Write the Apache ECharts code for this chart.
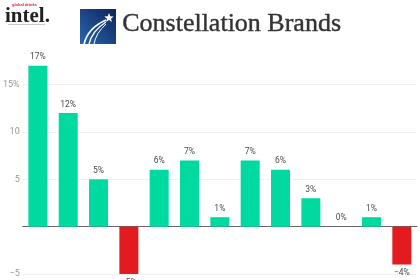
<!DOCTYPE html>
<html>
<head>
<meta charset="utf-8">
<script src="https://cdn.jsdelivr.net/npm/echarts@6/dist/echarts.min.js"></script>
<style>html,body{margin:0;padding:0;background:#fff}#c{width:420px;height:280px}</style>
</head>
<body>
<div id="c"></div>
<script>
const categories = ['1','2','3','4','5','6','7','8','9','10','11','12','13'];
const values = [17, 12, 5, -5, 6, 7, 1, 7, 6, 3, 0, 1, -4];
const yTicks = [-5, 5, 10, 15];

const GREEN = '#00d9a0', RED = '#e31b1f';
const chart = echarts.init(document.getElementById('c'), null, {renderer: 'canvas'});

function starPoints(cx, cy, R, r) {
  const pts = [];
  for (let i = 0; i < 10; i++) {
    const a = -Math.PI / 2 + i * Math.PI / 5;
    const rad = i % 2 === 0 ? R : r;
    pts.push([cx + rad * Math.cos(a), cy + rad * Math.sin(a)]);
  }
  return pts;
}

chart.setOption({
  animation: false,
  grid: {left: 22, right: 3, top: 37.3, bottom: 6, containLabel: false},
  xAxis: {
    type: 'category',
    data: categories,
    axisLine: {show: true, onZero: true, lineStyle: {color: '#666', width: 1}},
    axisTick: {show: false},
    axisLabel: {show: false},
    splitLine: {show: false}
  },
  yAxis: {
    type: 'value',
    min: -5, max: 20, interval: 5,
    axisLine: {show: false},
    axisTick: {show: false},
    axisLabel: {
      showMaxLabel: false,
      color: '#999', fontSize: 9, fontFamily: 'Roboto', margin: 3,
      formatter: v => yTicks.indexOf(v) < 0 ? '' : (v === 15 ? '15%' : String(v).replace('-', '\u2212'))
    },
    splitLine: {show: true, showMaxLine: false, lineStyle: {color: '#e2e2e2', type: 'dotted', width: 1}}
  },
  series: [{
    type: 'bar',
    data: values.map(v => ({value: v, itemStyle: {color: v < 0 ? RED : GREEN}, label: {position: v < 0 ? 'bottom' : 'top'}})),
    barWidth: 19,
    label: {
      show: true, color: '#4a4a4a', fontSize: 8.5, fontFamily: 'Roboto', distance: 4,
      formatter: p => String(p.value).replace('-', '\u2212') + '%'
    }
  }],
  graphic: [
    {type: 'text', left: 12, top: 3, style: {text: 'global drinks', fill: '#d2232a', font: 'bold 4px "Liberation Sans"'}},
    {type: 'text', left: 5, top: 6, style: {text: 'intel.', fill: '#222', font: 'bold 21px "Liberation Serif"'}},
    {type: 'rect', shape: {x: 8, y: 24, width: 37, height: 1}, style: {fill: '#c8c8c8'}},
    {type: 'rect', shape: {x: 80, y: 9, width: 36, height: 35},
      style: {fill: new echarts.graphic.LinearGradient(0, 1, 1, 0, [{offset: 0, color: '#2a66b0'}, {offset: 1, color: '#0c2457'}])}},
    {type: 'bezierCurve', shape: {x1: 84, y1: 44, x2: 106, y2: 20, cpx1: 88, cpy1: 28}, style: {stroke: '#fff', lineWidth: 1.6, fill: null}},
    {type: 'bezierCurve', shape: {x1: 89, y1: 44, x2: 106, y2: 22, cpx1: 92, cpy1: 31}, style: {stroke: '#fff', lineWidth: 1.3, fill: null}},
    {type: 'bezierCurve', shape: {x1: 94, y1: 44, x2: 106, y2: 24, cpx1: 96, cpy1: 33}, style: {stroke: '#fff', lineWidth: 1, fill: null}},
    {type: 'polygon', shape: {points: starPoints(109, 18, 5, 2.1)}, style: {fill: '#fff'}},
    {type: 'text', left: 122, top: 11, style: {text: 'Constellation Brands', fill: '#333', stroke: '#333', lineWidth: 0.4, font: '26px "Liberation Serif"'}}
  ]
});
</script>
</body>
</html>
